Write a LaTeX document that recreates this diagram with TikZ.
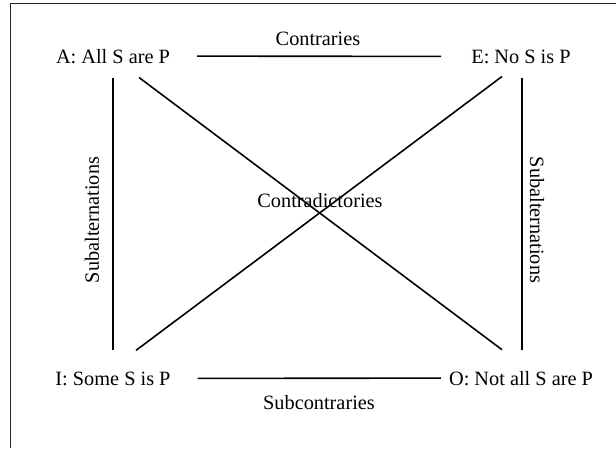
\documentclass[tikz,border=0pt]{standalone}
\usepackage{fontspec}
\setmainfont{Liberation Serif}
\usetikzlibrary{positioning,calc}

\tikzset{
  prop/.style={inner sep=0pt, anchor=base, font=\fontsize{20.3}{24}\selectfont},
  rel/.style={inner sep=0pt, font=\fontsize{20.3}{24}\selectfont},
  conn/.style={line width=1.6pt},
}

\begin{document}
\begin{tikzpicture}[x=1pt, y=-1pt]
        \useasboundingbox (0,0) rectangle (616,448);
        \draw[line width=1pt, black!85] (10,448) -- (10,3) -- (616,3);

        \node[prop] (A) at (113,63) {A: All S are P};
        \node[prop] (E) at (521,63) {E: No S is P};
        \node[prop] (I) at (113,385) {I: Some S is P};
        \node[prop] (O) at (521,385) {O: Not all S are P};

        \draw[conn, shorten <=27pt, shorten >=30pt] (A.east) -- (E.west);
        \draw[conn, shorten <=27pt, shorten >=8pt] (I.east) -- (O.west);
        \draw[conn, shorten <=15pt, shorten >=21pt] (A.south) -- (I.north);
        \draw[conn] ($(E.south)+(1,15)$) -- ($(O.north)+(1,-21)$);
        \draw[conn] ($(A.south)+(26,14)$) -- ($(O.north)+(-19,-21)$);
        \draw[conn] ($(E.south)+(-19,13)$) -- ($(I.north)+(23,-21)$);

        \node[rel, anchor=base] (contr) at (318,45) {Contraries};
        \node[rel, anchor=base] (subcontr) at (319,409) {Subcontraries};
        \node[rel, anchor=base] (contrad) at (320,207) {Contradictories};
        \node[rel, rotate=90] (subalt1) at (92,220) {Subalternations};
        \node[rel, rotate=-90] (subalt2) at (537,220) {Subalternations};
\end{tikzpicture}
\end{document}
